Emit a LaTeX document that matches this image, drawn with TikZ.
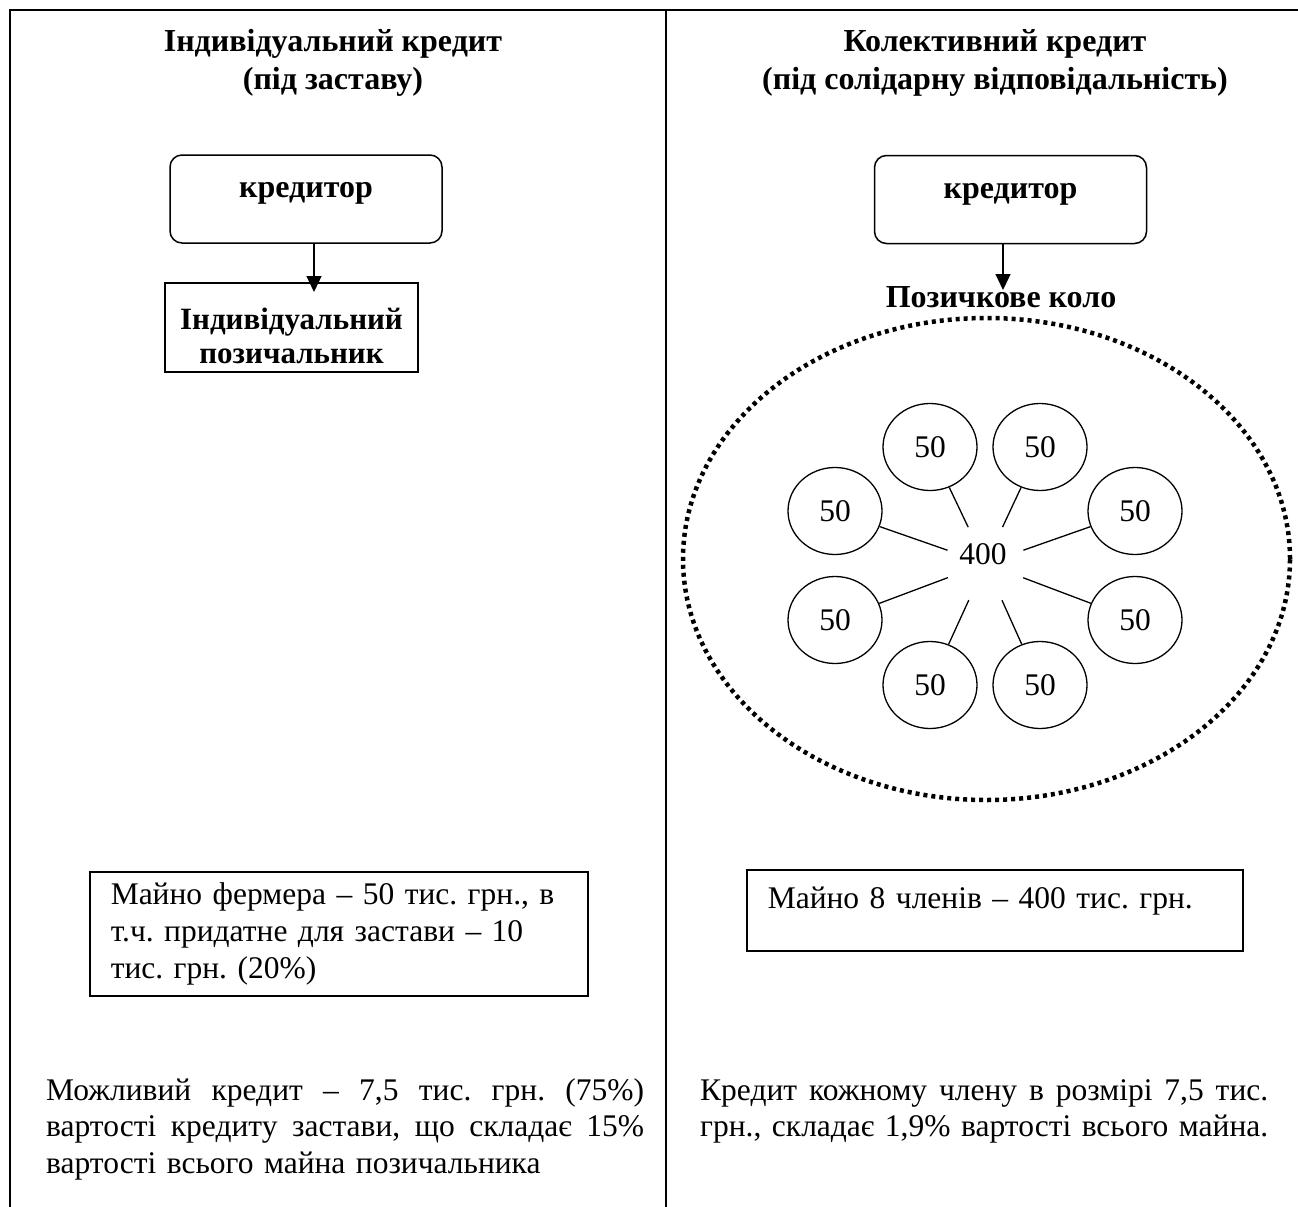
\documentclass[tikz,border=0pt]{standalone}
\usepackage{fontspec}
\setmainfont{Liberation Serif}
\usetikzlibrary{shapes.geometric,arrows.meta}
\frenchspacing
\newcommand\jline[2]{\leavevmode\hbox to #1{#2}}
\begin{document}
\begin{tikzpicture}[x=1pt,y=-1pt,
  every node/.style={font=\fontsize{31.5}{36.8}\selectfont},
  hd/.style={font=\fontsize{32}{38}\selectfont\bfseries, align=center, inner sep=0pt, anchor=north},
  rbox/.style={draw, line width=1.5pt, rounded corners=12pt, minimum width=272pt, minimum height=88pt, inner sep=0pt, text depth=18pt, font=\fontsize{32}{36}\selectfont\bfseries},
  sbox/.style={draw, line width=1.5pt, inner sep=0pt},
  ell/.style={draw, ellipse, line width=1.3pt, minimum width=94pt, minimum height=87pt, inner sep=0pt},
  spoke/.style={line width=1.3pt},
  arr/.style={line width=1.3pt, -{Triangle[length=16pt,width=15pt]}},
  frame/.style={line width=2pt}
]
\useasboundingbox (0,0) rectangle (1298,1207);
% table frame
\draw[frame] (10,1207) -- (10,10) -- (1298,10);
\draw[frame, line width=2.5pt] (666,10) -- (666,1207);

% headings
\node[hd] (h1) at (333,29) {Індивідуальний кредит\\(під заставу)};
\node[hd] (h2) at (995,29) {Колективний кредит\\(під солідарну відповідальність)};

% left column
\node[rbox] (kl) at (306,199) {кредитор};
\node[sbox, minimum width=253pt, minimum height=89pt, align=center, font=\fontsize{31}{34}\selectfont\bfseries] (ip) at (291.5,327.5) {\rule{0pt}{38pt}Індивідуальний\\позичальник};
\coordinate (ltip) at (314,292);
\draw[arr] (kl.south -| ltip) -- (ltip);

% right column
\node[rbox] (kr) at (1010.5,199.5) {кредитор};
\node[inner sep=0pt, font=\fontsize{32}{36}\selectfont\bfseries] (pk) at (1001,297) {Позичкове коло};
\coordinate (rtip) at (1003,290);
\draw[arr] (kr.south -| rtip) -- (rtip);

\node[draw, ellipse, minimum width=607pt, minimum height=482pt, line width=4.5pt, dash pattern=on 4pt off 4pt] (loop) at (986.5,559) {};

\node[circle, minimum size=80pt, inner sep=0pt] (hub) at (985.5,563.5) {};
\node[inner sep=0pt] (sum) at (983,554) {400};
\node[ell] (e1) at (930,447) {50};
\node[ell] (e2) at (1040,447) {50};
\node[ell] (e3) at (835,511) {50};
\node[ell] (e4) at (1135,511) {50};
\node[ell] (e5) at (835,620) {50};
\node[ell] (e6) at (1135,620) {50};
\node[ell] (e7) at (930,685) {50};
\node[ell] (e8) at (1040,685) {50};
\foreach \e in {e1,e2,e3,e4,e5,e6,e7,e8} {\draw[spoke] (hub) -- (\e);}

% property boxes
\node[sbox, anchor=north west, minimum width=498pt, minimum height=124pt, text width=456pt, align=left, inner xsep=21pt] (mf) at (89,871) {Майно фермера – 50 тис. грн., в\\т.ч. придатне для застави – 10\\тис. грн. (20\%)};
\node[sbox, anchor=north west, minimum width=496pt, minimum height=81pt, text width=454pt, align=left, inner xsep=21pt, text height=22pt, text depth=25pt] (m8) at (746,869) {Майно 8 членів – 400 тис. грн.};

% conclusions
\node[anchor=north west, inner sep=0pt, text width=598pt, align=left] (p1) at (46,1078) {\jline{598pt}{Можливий\hfill кредит\hfill –\hfill 7,5\hfill тис.\hfill грн.\hfill (75\%)}\\\jline{598pt}{вартості\hfill кредиту\hfill застави,\hfill що\hfill складає\hfill 15\%}\\вартості всього майна позичальника};
\node[anchor=north west, inner sep=0pt, text width=568pt, align=left] (p2) at (700,1079) {\jline{568pt}{Кредит\hfill кожному\hfill члену\hfill в\hfill розмірі\hfill 7,5\hfill тис.}\\грн., складає 1,9\% вартості всього майна.};
\end{tikzpicture}
\end{document}
